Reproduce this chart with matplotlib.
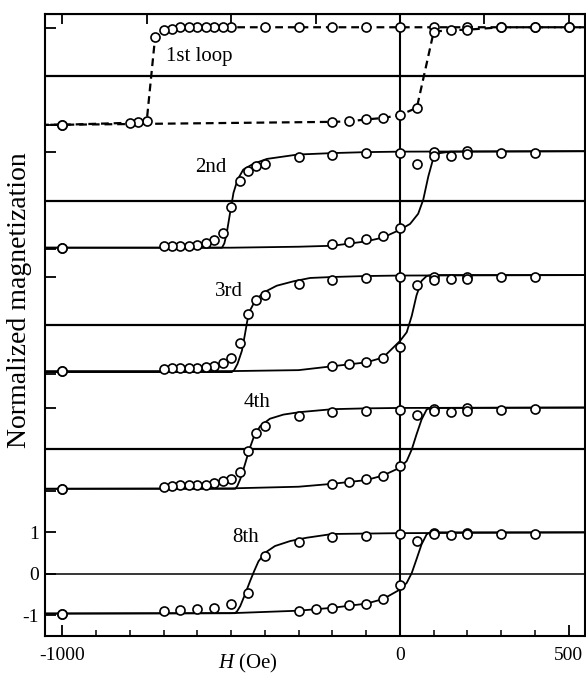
import matplotlib
matplotlib.use("Agg")
import matplotlib.pyplot as plt
from matplotlib.ticker import MultipleLocator

plt.rcParams['font.family'] = 'Liberation Serif'
plt.rcParams['mathtext.fontset'] = 'custom'
plt.rcParams['mathtext.rm'] = 'Liberation Serif'
plt.rcParams['mathtext.it'] = 'Liberation Serif:italic'

# panels, top to bottom: name, vertical offset, vertical scale
loop_names = ['1st loop', '2nd', '3rd', '4th', '8th']
offsets = [12, 9, 6, 3, 0]
scales = [1.17, 1.17, 1.17, 1.0, 1.0]
label_x = [-692, -607, -547, -464, -497]
label_y = [0.47, 0.80, 0.81, 1.13, 0.88]

# measured points, field in Oe, normalized magnetization
# branch from positive to negative field
h_desc = [
    [500, 400, 300, 200, 100, 0, -100, -200, -300, -400, -500, -525, -550, -575, -600,
     -625, -650, -675, -700, -725, -750, -775, -800, -1000],
    [400, 300, 200, 100, 0, -100, -200, -300, -400, -425, -450, -475, -500, -525, -550,
     -575, -600, -625, -650, -675, -700, -1000],
    [400, 300, 200, 100, 0, -100, -200, -300, -400, -425, -450, -475, -500, -525, -550,
     -575, -600, -625, -650, -675, -700, -1000],
    [400, 300, 200, 100, 0, -100, -200, -300, -400, -425, -450, -475, -500, -525, -550,
     -575, -600, -625, -650, -675, -700, -1000],
    [400, 300, 200, 100, 0, -100, -200, -300, -400, -450, -500, -550, -600, -650, -700, -1000],
]
m_desc = [
    [1.01, 1.01, 1.01, 1.01, 1.01, 1.01, 1.01, 1.01, 1.01, 1.01, 1.01, 1.01, 1.01, 1.01, 1.01,
     1.01, 1.01, 0.98, 0.95, 0.81, -0.93, -0.95, -0.96, -1.0],
    [0.98, 0.98, 1.02, 1.0, 0.98, 0.98, 0.95, 0.90, 0.76, 0.71, 0.62, 0.41, -0.13, -0.67, -0.82,
     -0.87, -0.91, -0.93, -0.94, -0.94, -0.94, -0.97],
    [0.99, 0.98, 1.0, 1.0, 0.98, 0.97, 0.93, 0.85, 0.62, 0.52, 0.23, -0.37, -0.69, -0.78, -0.84,
     -0.87, -0.89, -0.89, -0.89, -0.89, -0.91, -0.95],
    [0.98, 0.96, 1.0, 0.98, 0.95, 0.92, 0.90, 0.80, 0.56, 0.40, -0.04, -0.55, -0.71, -0.76, -0.82,
     -0.85, -0.87, -0.87, -0.87, -0.88, -0.90, -0.96],
    [0.95, 0.95, 0.98, 0.99, 0.95, 0.92, 0.88, 0.77, 0.42, -0.46, -0.72, -0.82, -0.84, -0.87, -0.89, -0.96],
]
# branch from negative to positive field
h_asc = [
    [-1000, -200, -150, -100, -50, 0, 50, 100, 150, 200, 300, 400, 500],
    [-1000, -200, -150, -100, -50, 0, 50, 100, 150, 200],
    [-1000, -200, -150, -100, -50, 0, 50, 100, 150, 200],
    [-1000, -200, -150, -100, -50, 0, 50, 100, 150, 200],
    [-1000, -300, -250, -200, -150, -100, -50, 0, 50, 100, 150, 200],
]
m_asc = [
    [-1.0, -0.94, -0.93, -0.89, -0.86, -0.80, -0.65, 0.92, 0.95, 0.96, 1.01, 1.01, 1.01],
    [-0.97, -0.89, -0.85, -0.80, -0.72, -0.57, 0.76, 0.91, 0.93, 0.96],
    [-0.95, -0.84, -0.81, -0.76, -0.67, -0.46, 0.83, 0.92, 0.94, 0.95],
    [-0.96, -0.83, -0.79, -0.72, -0.63, -0.39, 0.82, 0.93, 0.91, 0.93],
    [-0.96, -0.89, -0.84, -0.82, -0.76, -0.72, -0.62, -0.27, 0.80, 0.95, 0.93, 0.95],
]

# fitted curves (loops 2nd, 3rd, 4th, 8th)
fit_h_desc = [
    [600, 0, -100, -200, -303, -394, -434, -464, -481, -493, -503, -513, -520, -527, -1100],
    [600, 0, -100, -200, -266, -316, -365, -404, -429, -444, -452, -459, -468, -481, -491, -498, -1100],
    [600, 0, -100, -200, -296, -345, -385, -414, -432, -446, -459, -473, -482, -488, -1100],
    [600, 0, -100, -200, -276, -325, -370, -399, -419, -432, -444, -459, -473, -482, -488, -1100],
]
fit_m_desc = [
    [1.02, 1.01, 1.0, 0.98, 0.95, 0.86, 0.76, 0.64, 0.43, 0.16, -0.25, -0.67, -0.88, -0.97, -0.97],
    [1.03, 1.02, 1.01, 0.99, 0.97, 0.90, 0.81, 0.67, 0.50, 0.30, 0.09, -0.19, -0.53, -0.80, -0.93, -0.97, -0.97],
    [1.01, 1.0, 0.99, 0.97, 0.90, 0.84, 0.74, 0.56, 0.32, 0.0, -0.36, -0.72, -0.89, -0.95, -0.95],
    [1.0, 0.98, 0.97, 0.96, 0.87, 0.79, 0.67, 0.51, 0.30, 0.06, -0.18, -0.50, -0.78, -0.90, -0.95, -0.96],
]
fit_h_asc = [
    [-1100, -500, -300, -200, -100, -50, 0, 30, 54, 69, 84, 99, 118, 150, 600],
    [-1100, -500, -300, -200, -100, -50, 0, 20, 35, 49, 64, 79, 95, 600],
    [-1100, -500, -300, -200, -100, -50, 0, 20, 35, 49, 64, 79, 90, 600],
    [-1100, -500, -300, -200, -100, -50, 0, 20, 35, 49, 64, 79, 90, 600],
]
fit_m_asc = [
    [-0.97, -0.97, -0.95, -0.93, -0.84, -0.76, -0.60, -0.48, -0.27, 0.02, 0.50, 0.88, 0.98, 1.01, 1.02],
    [-0.95, -0.95, -0.93, -0.85, -0.77, -0.67, -0.33, -0.15, 0.19, 0.61, 0.91, 1.01, 1.03, 1.03],
    [-0.95, -0.94, -0.90, -0.83, -0.74, -0.63, -0.44, -0.28, 0.0, 0.36, 0.72, 0.96, 1.0, 1.01],
    [-0.96, -0.95, -0.89, -0.82, -0.72, -0.61, -0.38, -0.22, 0.02, 0.35, 0.71, 0.95, 1.0, 1.0],
]

fig = plt.figure(figsize=(5.86, 6.76), dpi=100)
ax = fig.add_axes([0.0763, 0.0592, 0.922, 0.920])

mk = dict(marker='o', ms=6.5, mfc='white', mec='black', mew=1.2, ls='none', zorder=4)

for i in range(5):
    off, s = offsets[i], scales[i]
    ax.axhline(off, color='black', lw=1.6 if i < 4 else 1.1, zorder=1)
    yd = [off + s * v for v in m_desc[i]]
    ya = [off + s * v for v in m_asc[i]]
    if i == 0:
        # first loop: dashed lines through the points, carried to the frame
        dash = dict(color='black', lw=1.6, ls=(0, (3.5, 2.2)), zorder=2)
        ax.plot([600] + h_desc[i] + [-1100], [yd[0]] + yd + [yd[-1]], **dash)
        ax.plot([-1100] + h_asc[i] + [600], [ya[0]] + ya + [ya[-1]], **dash)
    else:
        j = i - 1
        ax.plot(fit_h_desc[j], [off + s * v for v in fit_m_desc[j]], color='black', lw=1.3, zorder=2)
        ax.plot(fit_h_asc[j], [off + s * v for v in fit_m_asc[j]], color='black', lw=1.3, zorder=2)
    ax.plot(h_desc[i], yd, **mk)
    ax.plot(h_asc[i], ya, **mk)
    ax.text(label_x[i], off + label_y[i], loop_names[i], fontsize=15, ha='left', va='center')

ax.axvline(0, color='black', lw=1.5, zorder=1)

ax.set_xlim(-1052, 548)
ax.set_ylim(-1.5, 13.5)

# y ticks at +/-1 of every panel, numbers only on the bottom one
yt, yl = [], []
for off, s in zip(offsets, scales):
    for k in (-1, 0, 1):
        yt.append(off + k * s)
        yl.append(str(k) if off == 0 else '')
ax.set_yticks(yt)
ax.set_yticklabels(yl)
ax.tick_params(axis='y', direction='in', length=8, width=1.3, labelsize=14, pad=4,
               left=True, right=False)

ax.set_xticks([-1000, 0, 500])
ax.set_xticklabels(['-1000', '0', '500'])
ax.xaxis.set_minor_locator(MultipleLocator(100))
ax.tick_params(axis='x', which='major', direction='in', length=8, width=1.3, labelsize=14,
               pad=8, top=False)
ax.tick_params(axis='x', which='minor', direction='in', length=4.5, width=1.1, top=False)

# top ticks every 250 Oe
axt = ax.secondary_xaxis('top')
axt.set_xticks([-1000, -750, -500, -250, 0, 250, 500])
axt.tick_params(direction='in', length=7, width=1.3, labeltop=False)

for sp in ax.spines.values():
    sp.set_linewidth(1.5)

ax.set_xlabel(r'$\mathit{H}$ (Oe)', fontsize=15, va='center')
ax.xaxis.set_label_coords(0.376, -0.044)
ax.set_ylabel('Normalized magnetization', fontsize=20, va='center')
ax.yaxis.set_label_coords(-0.046, 0.54)

fig.savefig('out.png', dpi=100)
